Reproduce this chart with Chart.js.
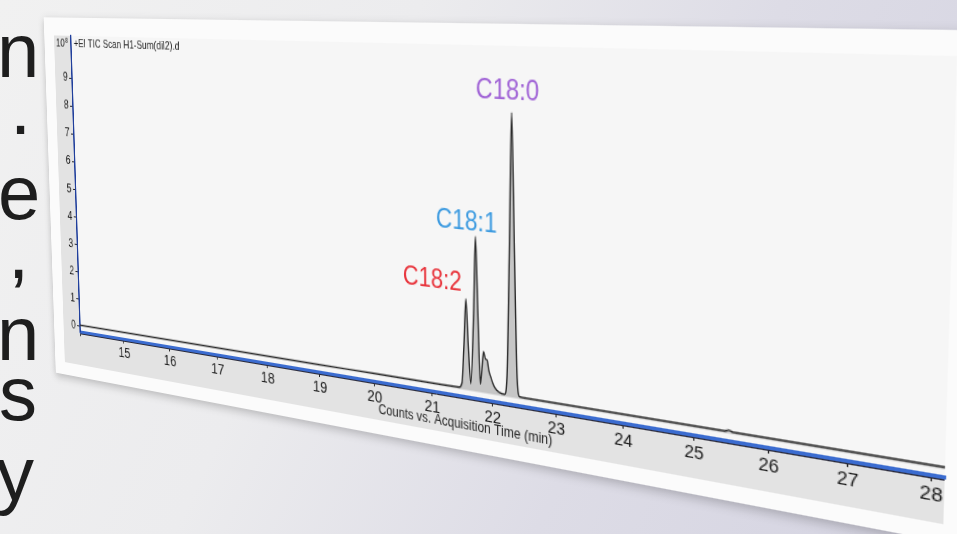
<!DOCTYPE html>
<html>
<head>
<meta charset="utf-8">
<script src="https://cdn.jsdelivr.net/npm/chart.js@4.4.1/dist/chart.umd.min.js"></script>
<style>
  html, body { margin:0; padding:0; width:957px; height:534px; overflow:hidden; }
  body {
    position:relative;
    background: linear-gradient(115deg, #f1f1f1 0%, #ececee 35%, #dddce6 65%, #d4d3e1 100%);
    font-family: "Liberation Sans", Arial, sans-serif;
  }
  .side { position:absolute; font-size:76px; line-height:1; color:#1e1e1e; white-space:nowrap; }
  #c { position:absolute; left:0; top:0; transform-origin:0 0; filter: drop-shadow(0 3px 4px rgba(0,0,0,0.22)); }
</style>
</head>
<body>
<div class="side" style="left:-3px; top:13px;">n</div>
<div class="side" style="left:10px; top:70px;">.</div>
<div class="side" style="left:-2px; top:155px;">e</div>
<div class="side" style="left:8px; top:214px;">,</div>
<div class="side" style="left:-3px; top:296px;">n</div>
<div class="side" style="left:-1px; top:356px;">s</div>
<div class="side" style="left:-4px; top:436px;">y</div>
<canvas id="c" width="935" height="366"></canvas>
<script>
// ---- data (counts in units of 10^8) ----
const times  = [14.0, 15.0, 16.0, 17.0, 18.0, 19.0, 20.0, 21.0, 21.45, 21.50, 21.535, 21.57, 21.605, 21.645,
                21.695, 21.73, 21.765, 21.80, 21.825, 21.855, 21.885, 21.91, 21.94, 21.97, 22.0, 22.04, 22.1,
                22.19, 22.23, 22.27, 22.31, 22.35, 22.39, 22.43, 22.55, 23.0, 24.0, 25.0, 25.42, 25.47, 25.52,
                26.0, 27.0, 28.0, 28.15];
const counts = [0.03, 0.03, 0.03, 0.03, 0.03, 0.03, 0.04, 0.04, 0.05, 0.2, 1.4, 2.82, 1.4, 0.22,
                2.4, 4.76, 2.4, 0.25, 0.7, 1.27, 1.05, 1.03, 0.7, 0.52, 0.35, 0.2, 0.1,
                0.06, 0.63, 4.4, 8.54, 4.4, 0.63, 0.06, 0.05, 0.05, 0.05, 0.05, 0.05, 0.09, 0.05,
                0.05, 0.05, 0.05, 0.05];
const xTicks = [14, 15, 16, 17, 18, 19, 20, 21, 22, 23, 24, 25, 26, 27, 28];
const yTicks = [0, 1, 2, 3, 4, 5, 6, 7, 8, 9];
const peakNames  = ['C18:2', 'C18:1', 'C18:0'];
const peakLabelT = [21.01, 21.58, 22.24];
const peakLabelV = [3.27, 5.18, 9.15];
const peakColors = ['#e8333b', '#3b9ae0', '#a063d6'];
const traceTitle = '+EI TIC Scan H1-Sum(dil2).d';
const xTitle = 'Counts vs. Acquisition Time (min)';

// ---- perspective of the photographed slide ----
const warpAnchors = [[14, 0], [28, 0], [14, 9], [28, 9]];
const warpTargets = [[80, 326], [932, 467], [72, 78], [942, 116]];

const FONT = '"Liberation Sans", Arial, sans-serif';

const bgPlugin = {
  id: 'bg',
  beforeDraw(chart) {
    const { ctx, width, height, chartArea: a } = chart;
    ctx.save();
    ctx.fillStyle = '#fbfbfb';
    ctx.fillRect(0, 0, width, height);
    ctx.fillStyle = '#e3e3e3';
    ctx.fillRect(14, a.top, a.right - 14, height - 13 - a.top);
    ctx.fillStyle = '#f6f6f6';
    ctx.fillRect(a.left, a.top, a.right - a.left, a.bottom - a.top);
    ctx.restore();
  }
};

const annotPlugin = {
  id: 'annot',
  afterDraw(chart) {
    const { ctx, chartArea: a } = chart;
    const xs = chart.scales.x, ys = chart.scales.y;
    ctx.save();
    // dark edge under the blue axis
    ctx.strokeStyle = '#2a2a3a';
    ctx.lineWidth = 1;
    ctx.beginPath();
    ctx.moveTo(a.left, a.bottom + 2.5);
    ctx.lineTo(a.right, a.bottom + 2.5);
    ctx.stroke();
    // y multiplier label
    const yl = ys.getPixelForValue(10.2);
    ctx.fillStyle = '#222';
    ctx.textBaseline = 'middle';
    ctx.textAlign = 'right';
    ctx.font = '11px ' + FONT;
    ctx.fillText('10', a.left - 9, yl);
    ctx.textAlign = 'left';
    ctx.font = '7px ' + FONT;
    ctx.fillText('8', a.left - 8, yl - 3);
    ctx.font = '11px ' + FONT;
    ctx.fillText(traceTitle, a.left + 4, yl);
    // x-axis title
    ctx.textAlign = 'center';
    ctx.textBaseline = 'top';
    ctx.font = '12px ' + FONT;
    ctx.fillText(xTitle, xs.getPixelForValue(21.5), a.bottom + 20);
    // peak labels
    ctx.textBaseline = 'middle';
    ctx.font = '23px ' + FONT;
    peakNames.forEach((n, i) => {
      ctx.fillStyle = peakColors[i];
      ctx.fillText(n, xs.getPixelForValue(peakLabelT[i]), ys.getPixelForValue(peakLabelV[i]));
    });
    ctx.restore();
  }
};

const canvas = document.getElementById('c');
const chart = new Chart(canvas.getContext('2d'), {
  type: 'line',
  data: {
    datasets: [{
      data: times.map((t, i) => ({ x: t, y: counts[i] })),
      borderColor: '#2b2b2b',
      borderWidth: 1.4,
      backgroundColor: 'rgba(140,140,140,0.45)',
      fill: 'origin',
      pointRadius: 0,
      cubicInterpolationMode: 'monotone'
    }]
  },
  options: {
    responsive: false,
    animation: false,
    events: [],
    layout: { padding: { left: 14, top: 18, right: 20, bottom: 13 } },
    plugins: { legend: { display: false }, tooltip: { enabled: false } },
    scales: {
      x: {
        type: 'linear', min: 14, max: 28.15,
        afterFit(s) { s.height = 35; },
        afterBuildTicks(s) { s.ticks = xTicks.map(v => ({ value: v })); },
        ticks: { autoSkip: false, maxRotation: 0, minRotation: 0, padding: 1, color: '#1a1a1a',
                 font: { family: FONT, size: 15 }, callback: v => (v === 14 ? '' : String(v)) },
        grid: { drawOnChartArea: false, tickLength: 5, color: '#222' },
        border: { color: '#3b6cd0', width: 3 }
      },
      y: {
        min: -0.2, max: 10.5,
        afterFit(s) { s.width = 24; },
        afterBuildTicks(s) { s.ticks = yTicks.map(v => ({ value: v })); },
        ticks: { padding: 2, color: '#1a1a1a', font: { family: FONT, size: 12 } },
        grid: { drawOnChartArea: false, tickLength: 4, color: '#222' },
        border: { color: '#203f9c', width: 2 }
      }
    }
  },
  plugins: [bgPlugin, annotPlugin]
});

function solveHomography(src, dst) {
  const A = [], b = [];
  for (let i = 0; i < 4; i++) {
    const [x, y] = src[i], [X, Y] = dst[i];
    A.push([x, y, 1, 0, 0, 0, -x * X, -y * X]); b.push(X);
    A.push([0, 0, 0, x, y, 1, -x * Y, -y * Y]); b.push(Y);
  }
  const n = 8;
  for (let i = 0; i < n; i++) {
    let p = i;
    for (let r = i + 1; r < n; r++) if (Math.abs(A[r][i]) > Math.abs(A[p][i])) p = r;
    [A[i], A[p]] = [A[p], A[i]]; [b[i], b[p]] = [b[p], b[i]];
    for (let r = 0; r < n; r++) {
      if (r === i) continue;
      const f = A[r][i] / A[i][i];
      for (let c = i; c < n; c++) A[r][c] -= f * A[i][c];
      b[r] -= f * b[i];
    }
  }
  return b.map((v, i) => v / A[i][i]);
}

const xs = chart.scales.x, ys = chart.scales.y;
const src = warpAnchors.map(([t, v]) => [xs.getPixelForValue(t), ys.getPixelForValue(v)]);
const h = solveHomography(src, warpTargets);
canvas.style.transform = `matrix3d(${h[0]},${h[3]},0,${h[6]},${h[1]},${h[4]},0,${h[7]},0,0,1,0,${h[2]},${h[5]},0,1)`;
</script>
</body>
</html>
